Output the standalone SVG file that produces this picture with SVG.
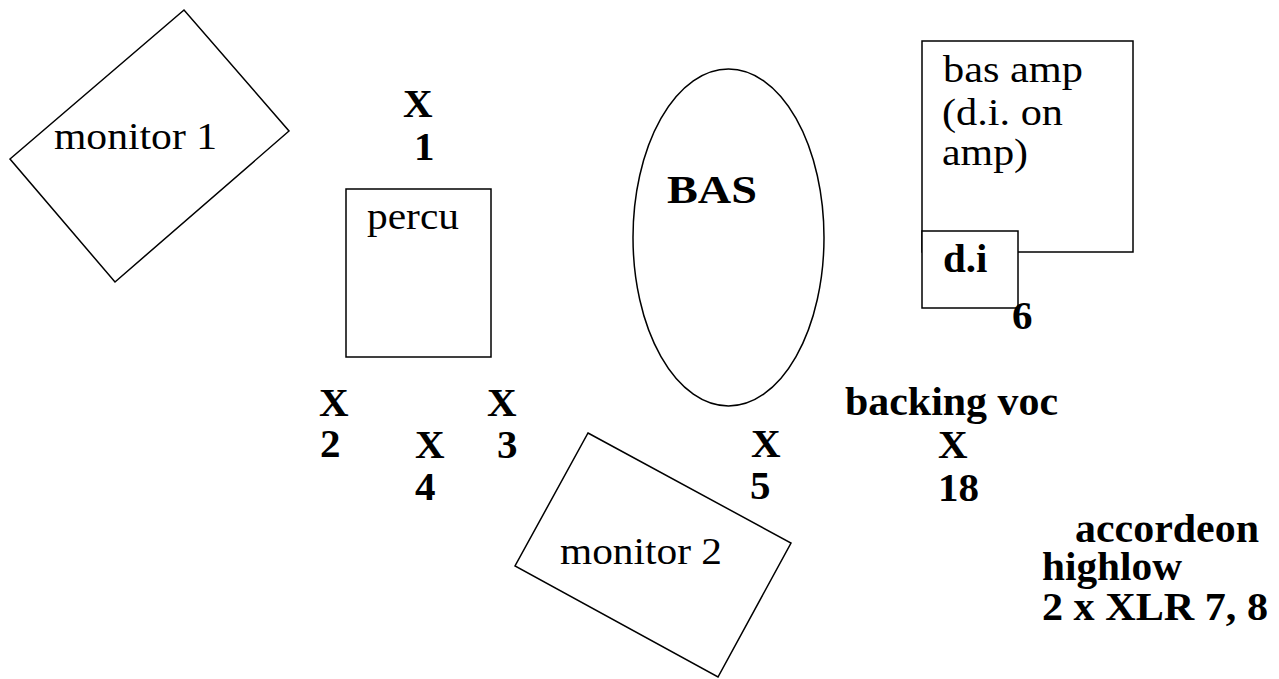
<svg xmlns="http://www.w3.org/2000/svg" width="1279" height="679" viewBox="0 0 1279 679">
<style>
.s{fill:#fff;stroke:#000;stroke-width:1.5}
.r{font-family:"Liberation Serif","Times New Roman",serif;font-size:38px;fill:#000}
.b{font-family:"Liberation Serif","Times New Roman",serif;font-size:41px;font-weight:bold;fill:#000}
</style>
<rect width="1279" height="679" fill="#fff"/>
<g id="monitor1">
<polygon class="s" points="10,159 184,10 289,131 115,282"/>
<text class="r" x="54" y="149" textLength="163" lengthAdjust="spacingAndGlyphs">monitor 1</text>
</g>
<g id="monitor2">
<polygon class="s" points="588,433 791,543 718,677 515,566"/>
<text class="r" x="560" y="564" textLength="162" lengthAdjust="spacingAndGlyphs">monitor 2</text>
</g>
<g id="percu">
<rect class="s" x="346" y="189" width="145" height="168"/>
<text class="r" x="367" y="229" textLength="92" lengthAdjust="spacingAndGlyphs">percu</text>
</g>
<g id="bas">
<ellipse class="s" cx="728.5" cy="237.5" rx="95.5" ry="168.5"/>
<text class="b" x="667" y="203" textLength="90" lengthAdjust="spacingAndGlyphs">BAS</text>
</g>
<g id="basamp">
<rect class="s" x="922" y="41" width="211" height="211"/>
<text class="r" x="943" y="82" textLength="140" lengthAdjust="spacingAndGlyphs">bas amp</text>
<text class="r" x="942" y="125" textLength="121" lengthAdjust="spacingAndGlyphs">(d.i. on</text>
<text class="r" x="942" y="165" textLength="86" lengthAdjust="spacingAndGlyphs">amp)</text>
</g>
<g id="di">
<rect class="s" x="922" y="231" width="96" height="77"/>
<text class="b" x="943" y="272">d.i</text>
<text class="b" x="1012" y="329">6</text>
</g>
<g id="mics">
<text class="b" x="403" y="117">X</text>
<text class="b" x="414" y="160">1</text>
<text class="b" x="319" y="416">X</text>
<text class="b" x="487" y="416">X</text>
<text class="b" x="320" y="457">2</text>
<text class="b" x="415" y="458">X</text>
<text class="b" x="497" y="458">3</text>
<text class="b" x="415" y="500">4</text>
<text class="b" x="751" y="457">X</text>
<text class="b" x="750" y="499">5</text>
<text class="b" x="845" y="415" textLength="213" lengthAdjust="spacingAndGlyphs">backing voc</text>
<text class="b" x="938" y="458">X</text>
<text class="b" x="938" y="501">18</text>
<text class="b" x="1075" y="542" textLength="184" lengthAdjust="spacingAndGlyphs">accordeon</text>
<text class="b" x="1042" y="580" textLength="140" lengthAdjust="spacingAndGlyphs">highlow</text>
<text class="b" x="1042" y="620" textLength="226" lengthAdjust="spacingAndGlyphs">2 x XLR 7, 8</text>
</g>
<g id="connectors"></g>
</svg>
